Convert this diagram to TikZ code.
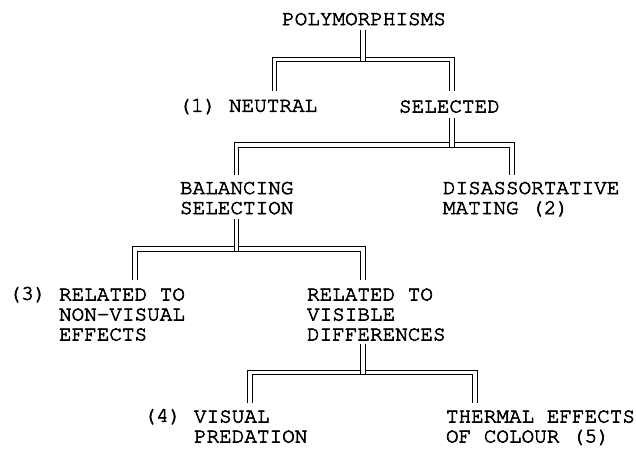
\documentclass[tikz,border=0pt]{standalone}
\usepackage[T1]{fontenc}
\usepackage{courier}
\newcommand{\embon}{\special{pdf:literal direct 2 Tr 0.6 w}}
\newcommand{\emboff}{\special{pdf:literal direct 0 Tr}}
\begin{document}
\begin{tikzpicture}[x=1pt,y=-1pt,
  txt/.style={inner sep=0pt, outer sep=0pt, align=left, font=\ttfamily\fontsize{21}{20}\selectfont,
    execute at begin node=\embon, execute at end node=\emboff},
  dbl/.style={draw=black, double=white, line width=1.1pt, double distance=3.1pt, line cap=butt, line join=miter},
]
\useasboundingbox[fill=white] (0,0) rectangle (636,449);

% texts
\node[txt] (poly) at (364,19) {POLYMORPHISMS};
\node[txt, anchor=north west] (neutral) at (229,100) {NEUTRAL};
\node[txt, anchor=base east] (n1) at ([xshift=-12.6pt]neutral.base west) {(1)};
\node[txt, anchor=north west] (selected) at (399,100) {SELECTED};
\node[txt, anchor=north west] (bal) at (180,181.5) {BALANCING\\SELECTION};
\node[txt, anchor=north west] (dis) at (443,181.5) {DISASSORTATIVE\\MATING (2)};
\node[txt, anchor=north west] (nonvis) at (59,288) {RELATED TO\\NON-VISUAL\\EFFECTS};
\node[txt, anchor=base east] (n3) at ([xshift=-12.6pt,yshift=-11.8pt]nonvis.north west) {(3)};
\node[txt, anchor=north west] (vis) at (307,288) {RELATED TO\\VISIBLE\\DIFFERENCES};
\node[txt, anchor=north west] (pred) at (194,410) {VISUAL\\PREDATION};
\node[txt, anchor=base east] (n4) at ([xshift=-12.6pt,yshift=-11.8pt]pred.north west) {(4)};
\node[txt, anchor=north west] (therm) at (446,410) {THERMAL EFFECTS\\OF COLOUR (5)};

% bar levels
\coordinate (bar1) at (0,59.5);
\coordinate (bar2) at (0,145);
\coordinate (bar3) at (0,249);
\coordinate (bar4) at (0,372.5);

% connection points
\coordinate (polyB) at ([xshift=-1pt,yshift=-5pt]poly.south);
\coordinate (neuT) at ([xshift=45.5pt,yshift=9pt]neutral.north west);
\coordinate (selT) at ([xshift=53pt,yshift=9pt]selected.north west);
\coordinate (selB) at ([xshift=53pt,yshift=-5pt]selected.south west);
\coordinate (balT) at ([yshift=6.5pt]bal.north);
\coordinate (disT) at ([xshift=69pt,yshift=6.5pt]dis.north west);
\coordinate (balB) at ([yshift=-4.5pt]bal.south);
\coordinate (nonT) at ([xshift=76pt,yshift=8pt]nonvis.north west);
\coordinate (visT) at ([xshift=56pt,yshift=8pt]vis.north west);
\coordinate (visB) at ([xshift=56pt,yshift=-3.5pt]vis.south west);
\coordinate (predT) at ([xshift=56pt,yshift=7pt]pred.north west);
\coordinate (thermT) at ([xshift=29pt,yshift=7pt]therm.north west);

% level 1
\draw[dbl] (neuT) |- (selT |- bar1) -- (selT);
\draw[dbl] (polyB) -- ([yshift=-1.55pt]polyB |- bar1);
% level 2
\draw[dbl] (balT) |- (disT |- bar2) -- (disT);
\draw[dbl] (selB) -- ([yshift=-1.55pt]selB |- bar2);
% level 3
\draw[dbl] (nonT) |- (visT |- bar3) -- (visT);
\draw[dbl] (balB) -- ([yshift=-1.55pt]balB |- bar3);
% level 4
\draw[dbl] (predT) |- (thermT |- bar4) -- (thermT);
\draw[dbl] (visB) -- ([yshift=-1.55pt]visB |- bar4);
\end{tikzpicture}
\end{document}
